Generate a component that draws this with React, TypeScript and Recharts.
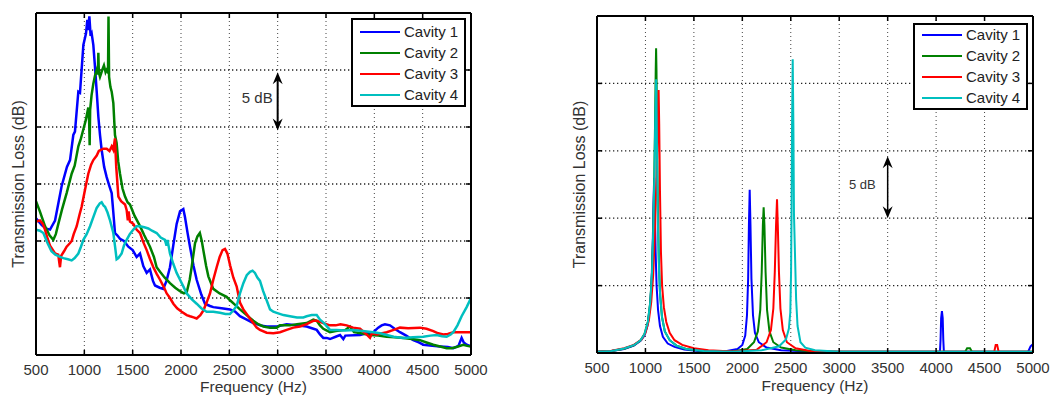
import React from 'react';
import { LineChart, Line, XAxis, YAxis, CartesianGrid, Legend, ReferenceLine } from 'recharts';

const freqTicks = [500, 1000, 1500, 2000, 2500, 3000, 3500, 4000, 4500, 5000];
const measuredDbTicks = [0, 5, 10, 15, 20, 25, 30];
const simulatedDbTicks = [0, 5, 10, 15, 20, 25];
const seriesNames = ['Cavity 1', 'Cavity 2', 'Cavity 3', 'Cavity 4'];
const seriesColors = ['#0000ff', '#008000', '#ff0000', '#00bfbf'];

type Pt = [number, number];

// ---- Measured (left panel) : [frequency Hz, relative TL dB]
const cavity1Measured: Pt[] = [
  [500, 12.0], [560, 11.4], [600, 11.1], [645, 11.0], [697, 11.8], [765, 14.8], [820, 16.5], [852, 17.1],
  [886, 19.3], [903, 19.6], [938, 23.1], [955, 23.0], [990, 27.2], [1017, 28.2], [1031, 29.4], [1040, 28.5],
  [1052, 29.7], [1065, 28.0], [1076, 28.2], [1093, 27.2], [1110, 25.3], [1128, 23.1], [1145, 20.9], [1162, 19.3],
  [1179, 18.0], [1205, 16.5], [1231, 15.6], [1260, 14.8], [1283, 14.2], [1300, 12.5], [1317, 10.7], [1340, 10.5],
  [1369, 10.2], [1410, 10.0], [1455, 9.5], [1500, 9.2], [1541, 8.6], [1576, 8.9], [1610, 7.8], [1645, 7.2],
  [1679, 7.5], [1710, 6.5], [1731, 6.1], [1780, 5.9], [1817, 5.8], [1850, 6.5], [1886, 7.7], [1920, 9.6],
  [1955, 11.5], [1990, 12.6], [2024, 12.8], [2041, 12.1], [2070, 10.6], [2093, 9.5], [2130, 7.8], [2162, 6.6],
  [2210, 5.3], [2248, 4.5], [2300, 4.3], [2334, 4.2], [2420, 4.1], [2507, 4.0], [2560, 3.8], [2610, 3.4],
  [2680, 3.1], [2748, 2.8], [2820, 2.6], [2886, 2.5], [2990, 2.5], [3093, 2.7], [3196, 2.6], [3300, 2.5],
  [3370, 2.3], [3404, 2.2], [3438, 1.8], [3472, 1.5], [3507, 1.5], [3541, 1.4], [3600, 1.6], [3645, 1.75],
  [3679, 1.4], [3700, 1.7], [3852, 1.75], [3920, 1.9], [3990, 2.0], [4040, 2.4], [4076, 2.6], [4110, 2.7],
  [4162, 2.6], [4210, 2.3], [4265, 2.0], [4330, 1.7], [4403, 1.3], [4460, 1.1], [4507, 0.9], [4600, 0.8],
  [4679, 0.75], [4760, 0.7], [4817, 0.6], [4870, 0.8], [4903, 1.5], [4925, 1.1], [4955, 0.9], [5000, 0.75],
];

const cavity2Measured: Pt[] = [
  [500, 13.5], [540, 12.6], [593, 11.3], [640, 10.5], [679, 10.1], [705, 10.6], [731, 11.5], [770, 12.8],
  [817, 14.2], [869, 15.9], [900, 16.6], [938, 18.3], [965, 19.0], [990, 19.8], [1015, 20.6], [1041, 21.7],
  [1050, 20.5], [1055, 18.4], [1060, 21.5], [1075, 22.8], [1093, 23.8], [1110, 24.5], [1128, 25.0], [1140, 24.6],
  [1145, 26.5], [1150, 24.8], [1162, 24.4], [1185, 25.0], [1203, 25.4], [1220, 24.8], [1231, 25.0], [1245, 24.8],
  [1250, 29.7], [1256, 24.4], [1270, 23.5], [1283, 23.1], [1300, 22.1], [1317, 19.3], [1334, 18.6], [1350, 17.0],
  [1369, 15.9], [1395, 14.6], [1421, 13.9], [1447, 13.4], [1472, 13.2], [1520, 12.2], [1576, 11.3], [1620, 10.5],
  [1679, 9.5], [1720, 8.6], [1748, 7.7], [1783, 7.3], [1830, 6.8], [1886, 6.3], [1940, 5.9], [1990, 5.6],
  [2030, 5.4], [2059, 5.5], [2090, 6.6], [2110, 7.7], [2145, 9.8], [2170, 10.4], [2195, 10.7], [2215, 10.0],
  [2231, 9.2], [2260, 7.8], [2283, 6.9], [2334, 5.8], [2400, 5.4], [2472, 5.1], [2507, 4.8], [2560, 4.4],
  [2610, 4.0], [2679, 3.5], [2748, 3.0], [2800, 2.7], [2852, 2.5], [2920, 2.4], [2990, 2.4], [3024, 2.6],
  [3127, 2.6], [3200, 2.7], [3300, 2.8], [3369, 3.1], [3404, 3.0], [3438, 2.6], [3472, 2.3], [3541, 2.0],
  [3600, 2.1], [3700, 2.2], [3748, 2.5], [3790, 2.0], [3860, 1.9], [3955, 1.75], [4040, 1.7], [4128, 1.6],
  [4210, 1.55], [4300, 1.5], [4390, 1.4], [4472, 1.3], [4540, 1.1], [4610, 0.9], [4680, 0.75], [4748, 0.6],
  [4800, 0.6], [4851, 0.7], [4920, 0.9], [4960, 0.8], [5000, 0.75],
];

const cavity3Measured: Pt[] = [
  [500, 11.7], [541, 11.8], [570, 11.5], [593, 11.0], [620, 10.2], [645, 9.6], [697, 8.9], [730, 8.8],
  [748, 7.7], [760, 8.7], [790, 9.1], [817, 9.5], [850, 9.8], [869, 10.0], [890, 10.6], [921, 11.3],
  [950, 12.3], [972, 13.0], [1007, 14.5], [1041, 15.9], [1070, 16.7], [1093, 17.1], [1128, 17.5], [1150, 17.9],
  [1197, 18.1], [1231, 18.1], [1260, 17.9], [1283, 18.3], [1300, 18.0], [1317, 19.0], [1330, 16.5], [1352, 13.9],
  [1380, 13.5], [1421, 13.2], [1438, 12.7], [1450, 11.8], [1458, 12.6], [1472, 11.7], [1507, 11.5], [1540, 11.0],
  [1576, 10.7], [1610, 9.9], [1645, 9.2], [1680, 8.4], [1714, 7.7], [1750, 7.1], [1783, 6.6], [1820, 6.0],
  [1852, 5.4], [1886, 5.0], [1921, 4.5], [1960, 4.1], [2007, 3.8], [2059, 3.5], [2093, 3.4], [2130, 3.3],
  [2162, 3.2], [2200, 3.5], [2231, 3.9], [2265, 4.6], [2300, 5.4], [2334, 6.6], [2369, 7.7], [2400, 8.6],
  [2430, 9.2], [2455, 9.3], [2480, 8.9], [2510, 7.8], [2541, 6.8], [2576, 6.0], [2610, 4.6], [2645, 4.0],
  [2679, 3.6], [2730, 3.0], [2783, 2.4], [2817, 2.2], [2886, 1.95], [2955, 1.9], [3024, 2.0], [3093, 2.2],
  [3162, 2.4], [3231, 2.5], [3300, 2.7], [3369, 3.0], [3404, 3.0], [3438, 2.9], [3472, 2.8], [3541, 2.6],
  [3600, 2.6], [3650, 2.7], [3714, 2.6], [3780, 2.4], [3852, 2.3], [3920, 1.8], [3955, 1.5], [3975, 1.9],
  [4024, 1.8], [4128, 2.0], [4200, 2.2], [4265, 2.4], [4350, 2.35], [4472, 2.4], [4540, 2.3], [4610, 2.1],
  [4660, 1.9], [4714, 1.8], [4760, 1.85], [4817, 2.0], [4900, 2.0], [5000, 2.0],
];

const cavity4Measured: Pt[] = [
  [500, 11.0], [540, 10.9], [576, 10.7], [620, 9.8], [660, 9.1], [700, 8.8], [750, 8.6], [783, 8.5],
  [830, 8.4], [869, 8.3], [900, 8.5], [938, 8.9], [965, 9.5], [990, 10.1], [1024, 10.6], [1059, 11.3],
  [1093, 12.1], [1128, 12.9], [1160, 13.3], [1179, 13.4], [1200, 13.1], [1214, 13.0], [1240, 12.5], [1266, 11.8],
  [1300, 10.7], [1318, 9.5], [1334, 8.4], [1352, 8.5], [1386, 8.9], [1410, 9.6], [1438, 10.1], [1470, 10.6],
  [1507, 11.0], [1540, 11.3], [1576, 11.3], [1620, 11.2], [1662, 11.1], [1700, 10.9], [1748, 10.7], [1790, 10.3],
  [1834, 10.1], [1850, 9.6], [1860, 10.1], [1886, 8.9], [1920, 8.0], [1955, 7.2], [1990, 6.6], [2025, 6.0],
  [2059, 5.4], [2110, 4.9], [2162, 4.5], [2210, 4.1], [2265, 3.8], [2334, 3.8], [2403, 3.7], [2460, 3.6],
  [2507, 3.6], [2540, 3.9], [2576, 4.3], [2610, 5.4], [2645, 6.3], [2680, 7.0], [2714, 7.3], [2740, 7.4],
  [2765, 7.2], [2790, 6.8], [2817, 6.5], [2850, 5.6], [2886, 4.8], [2921, 4.0], [2955, 3.8], [2990, 3.7],
  [3060, 3.5], [3127, 3.4], [3200, 3.3], [3265, 3.3], [3300, 3.4], [3352, 3.5], [3404, 3.5], [3438, 3.1],
  [3480, 2.8], [3541, 2.2], [3610, 2.2], [3700, 2.15], [3783, 2.2], [3880, 2.1], [3990, 2.0], [4060, 1.9],
  [4128, 1.75], [4200, 1.6], [4300, 1.5], [4400, 1.55], [4507, 1.6], [4580, 1.7], [4645, 1.75], [4700, 1.65],
  [4748, 1.6], [4790, 1.8], [4817, 2.0], [4860, 2.6], [4903, 3.4], [4955, 4.2], [5000, 5.0],
];

// ---- Simulated (right panel)
const cavity1Simulated: Pt[] = [
  [500, 0.1], [650, 0.15], [780, 0.3], [880, 0.55], [950, 0.9], [990, 1.3], [1020, 2.0], [1045, 3.3],
  [1062, 5.0], [1075, 8.0], [1083, 11.0], [1090, 13.0], [1097, 11.0], [1105, 7.5], [1115, 5.0], [1130, 3.2],
  [1150, 2.0], [1180, 1.2], [1230, 0.7], [1300, 0.45], [1400, 0.25], [1550, 0.15], [1800, 0.1], [1950, 0.3],
  [2000, 0.6], [2030, 1.3], [2048, 2.8], [2060, 5.5], [2068, 9.5], [2076, 12.1], [2084, 9.5], [2094, 5.5],
  [2110, 2.8], [2130, 1.5], [2170, 0.8], [2250, 0.4], [2400, 0.2], [2700, 0.12], [4040, 0.1], [4046, 1.0],
  [4052, 2.6], [4060, 3.1], [4068, 2.6], [4074, 1.0], [4080, 0.1], [4950, 0.1], [4975, 0.5], [4990, 0.6],
  [5000, 0.5],
];

const cavity2Simulated: Pt[] = [
  [500, 0.1], [650, 0.15], [780, 0.32], [880, 0.57], [950, 0.95], [990, 1.4], [1025, 2.3], [1050, 3.8],
  [1068, 6.0], [1082, 9.5], [1093, 14.0], [1100, 17.5], [1106, 21.0], [1110, 22.6], [1114, 21.0], [1120, 16.0],
  [1128, 11.0], [1138, 7.0], [1150, 4.5], [1170, 2.7], [1200, 1.6], [1250, 0.95], [1320, 0.55], [1420, 0.3],
  [1600, 0.15], [1900, 0.12], [2050, 0.3], [2120, 0.8], [2160, 1.6], [2185, 3.2], [2200, 6.0], [2212, 9.5],
  [2220, 10.8], [2228, 9.5], [2240, 6.0], [2255, 3.2], [2280, 1.6], [2320, 0.8], [2400, 0.4], [2550, 0.2],
  [2800, 0.1], [4300, 0.1], [4320, 0.35], [4350, 0.35], [4370, 0.1], [5000, 0.1],
];

const cavity3Simulated: Pt[] = [
  [500, 0.1], [650, 0.17], [780, 0.35], [880, 0.6], [960, 1.0], [1000, 1.5], [1035, 2.4], [1060, 3.8],
  [1080, 5.8], [1095, 8.5], [1108, 11.5], [1120, 14.5], [1130, 17.5], [1136, 19.5], [1142, 17.0], [1150, 12.0],
  [1160, 7.5], [1172, 5.0], [1190, 3.4], [1215, 2.3], [1250, 1.5], [1300, 0.95], [1380, 0.6], [1500, 0.35],
  [1650, 0.2], [1900, 0.12], [2150, 0.25], [2250, 0.8], [2295, 1.7], [2320, 3.3], [2335, 6.0], [2348, 9.5],
  [2358, 11.4], [2366, 9.5], [2378, 6.0], [2393, 3.3], [2418, 1.7], [2460, 0.8], [2550, 0.35], [2700, 0.15],
  [3000, 0.1], [4600, 0.1], [4615, 0.6], [4630, 0.6], [4645, 0.1], [5000, 0.1],
];

const cavity4Simulated: Pt[] = [
  [500, 0.1], [650, 0.15], [780, 0.33], [880, 0.58], [950, 0.95], [990, 1.4], [1025, 2.3], [1050, 3.8],
  [1068, 6.0], [1082, 9.5], [1093, 13.5], [1102, 17.5], [1110, 20.3], [1116, 17.5], [1122, 13.0], [1130, 9.0],
  [1140, 6.2], [1152, 4.2], [1172, 2.6], [1200, 1.6], [1250, 0.95], [1320, 0.55], [1420, 0.3], [1600, 0.15],
  [1900, 0.1], [2200, 0.2], [2380, 0.5], [2450, 1.0], [2480, 1.8], [2495, 3.0], [2503, 6.0], [2508, 10.3],
  [2513, 16.8], [2520, 21.8], [2527, 16.8], [2533, 10.3], [2545, 6.9], [2555, 4.0], [2570, 2.0], [2600, 0.8],
  [2650, 0.4], [2750, 0.2], [3000, 0.1], [5000, 0.1],
];

const measuredSeries = [cavity1Measured, cavity2Measured, cavity3Measured, cavity4Measured];
const simulatedSeries = [cavity1Simulated, cavity2Simulated, cavity3Simulated, cavity4Simulated];

const toRows = (pts: Pt[]) => pts.map(([f, v]) => ({ f, v }));

const TEXT = '#333333';
const FONT = 'Arial, "Liberation Sans", Helvetica, sans-serif';
const GRID = '#444';

const EmptyTick = () => <g />;

// dotted horizontal grid line
const GridLineShape = (props: any) => {
  const { x1, x2, y1 } = props;
  return <line x1={x1} x2={x2} y1={y1} y2={y1} stroke="#222" strokeWidth={1.3} strokeDasharray="1.3 2.7" />;
};

type ArrowCfg = { f: number; y1: number; y2: number; gap: number; fontSize: number; dy: number; width: number };

const makeArrowShape = (cfg: ArrowCfg) => (props: any) => {
  const { x1, y1, x2, y2 } = props;
  const top = Math.min(y1, y2);
  const bot = Math.max(y1, y2);
  const x = x1;
  const hw = 5;
  const hh = 12;
  const mid = (top + bot) / 2;
  return (
    <g>
      <line x1={x} y1={top + 6} x2={x2} y2={bot - 6} stroke="#000" strokeWidth={cfg.width} />
      <polygon points={`${x},${top} ${x - hw},${top + hh} ${x},${top + hh - 4} ${x + hw},${top + hh}`} fill="#000" />
      <polygon points={`${x},${bot} ${x - hw},${bot - hh} ${x},${bot - hh + 4} ${x + hw},${bot - hh}`} fill="#000" />
      <text x={x - cfg.gap} y={mid + cfg.dy} textAnchor="end" dominantBaseline="central" fontSize={cfg.fontSize} fill={TEXT}>
        5 dB
      </text>
    </g>
  );
};

type LegendCfg = { x: number; y: number; w: number; h: number; first: number; gap: number };

const makeLegend = (cfg: LegendCfg) => (props: any) => {
  const payload = (props.payload || []).filter((it: any) => seriesNames.includes(it.value));
  return (
    <div
      style={{
        position: 'relative',
        width: cfg.w,
        height: cfg.h,
        border: '2px solid #000',
        boxSizing: 'border-box',
        background: '#fff',
        fontFamily: FONT,
      }}
    >
      {payload.map((item: any, i: number) => (
        <div
          key={i}
          style={{
            position: 'absolute',
            left: 7,
            top: cfg.first + i * cfg.gap - 2 - 10,
            height: 20,
            display: 'flex',
            alignItems: 'center',
            whiteSpace: 'nowrap',
          }}
        >
          <div style={{ width: 40, height: 2, background: item.color, marginRight: 4 }} />
          <span style={{ fontSize: 15, color: '#222', lineHeight: '20px' }}>{item.value}</span>
        </div>
      ))}
    </div>
  );
};

type PanelProps = {
  left: number;
  width: number;
  margin: { top: number; right: number; bottom: number; left: number };
  xAxisHeight: number;
  xLabelOffset: number;
  yMax: number;
  yTicks: number[];
  series: Pt[][];
  lineWidth: number;
  arrow: ArrowCfg;
  legend: LegendCfg;
};

function Panel(p: PanelProps) {
  const axisLine = { stroke: '#000', strokeWidth: 2 };
  const tickLine = { stroke: '#000', strokeWidth: 1.5 };
  const innerYTicks = p.yTicks.filter((t) => t > 0 && t < p.yMax);
  return (
    <div style={{ position: 'absolute', left: p.left, top: 0 }}>
      <LineChart width={p.width} height={396} margin={p.margin}>
        <CartesianGrid stroke={GRID} strokeDasharray="1 3" strokeWidth={1} horizontal={false} />
        {innerYTicks.map((t) => (
          <ReferenceLine
            key={`h${t}`}
            segment={[
              { x: freqTicks[0], y: t },
              { x: freqTicks[freqTicks.length - 1], y: t },
            ]}
            stroke={GRID}
            ifOverflow="visible"
            shape={GridLineShape}
          />
        ))}
        <XAxis
          xAxisId={0}
          type="number"
          dataKey="f"
          domain={[500, 5000]}
          allowDataOverflow
          ticks={freqTicks}
          interval={0}
          height={p.xAxisHeight}
          tickSize={-5}
          tickMargin={14}
          axisLine={axisLine}
          tickLine={tickLine}
          tick={{ fontSize: 15, fill: TEXT }}
          label={{ value: 'Frequency (Hz)', position: 'insideBottom', offset: p.xLabelOffset, fontSize: 15.5, fill: TEXT }}
        />
        <XAxis
          xAxisId="top"
          orientation="top"
          type="number"
          dataKey="f"
          domain={[500, 5000]}
          allowDataOverflow
          ticks={freqTicks}
          interval={0}
          height={1}
          tickSize={-5}
          tick={<EmptyTick />}
          axisLine={axisLine}
          tickLine={tickLine}
        />
        <YAxis
          yAxisId={0}
          type="number"
          domain={[0, p.yMax]}
          allowDataOverflow
          ticks={p.yTicks}
          interval={0}
          width={36}
          tickSize={-5}
          tick={<EmptyTick />}
          axisLine={axisLine}
          tickLine={tickLine}
          label={{ value: 'Transmission Loss (dB)', angle: -90, position: 'center', fontSize: 16, fill: TEXT }}
        />
        <YAxis
          yAxisId="right"
          orientation="right"
          type="number"
          domain={[0, p.yMax]}
          allowDataOverflow
          ticks={p.yTicks}
          interval={0}
          width={1}
          tickSize={-5}
          tick={<EmptyTick />}
          axisLine={axisLine}
          tickLine={tickLine}
        />
        {p.series.map((pts, i) => (
          <Line
            key={seriesNames[i]}
            name={seriesNames[i]}
            data={toRows(pts)}
            dataKey="v"
            type="linear"
            stroke={seriesColors[i]}
            strokeWidth={p.lineWidth}
            dot={false}
            activeDot={false}
            isAnimationActive={false}
          />
        ))}
        {/* invisible carrier so the box's top/right axes are bound to data */}
        <Line
          xAxisId="top"
          yAxisId="right"
          name="frame"
          legendType="none"
          data={toRows(p.series[0])}
          dataKey="v"
          stroke="none"
          dot={false}
          activeDot={false}
          isAnimationActive={false}
        />
        <ReferenceLine
          segment={[
            { x: p.arrow.f, y: p.arrow.y1 },
            { x: p.arrow.f, y: p.arrow.y2 },
          ]}
          stroke="#000"
          ifOverflow="visible"
          shape={makeArrowShape(p.arrow)}
        />
        <Legend
          layout="vertical"
          align="center"
          verticalAlign="middle"
          wrapperStyle={{ left: p.legend.x, top: p.legend.y, width: p.legend.w, height: p.legend.h }}
          content={makeLegend(p.legend)}
        />
      </LineChart>
    </div>
  );
}

export default function App() {
  return (
    <div
      style={{
        position: 'absolute',
        left: 0,
        top: 0,
        width: 1056,
        height: 396,
        background: '#fff',
        fontFamily: FONT,
        overflow: 'hidden',
      }}
    >
      <Panel
        left={0}
        width={520}
        margin={{ top: 12, right: 48, bottom: 0, left: 0 }}
        xAxisHeight={41}
        xLabelOffset={4}
        yMax={30}
        yTicks={measuredDbTicks}
        series={measuredSeries}
        lineWidth={2.5}
        arrow={{ f: 3000, y1: 19.7, y2: 24.8, gap: 5, fontSize: 15, dy: -4, width: 2 }}
        legend={{ x: 351, y: 18, w: 115, h: 89, first: 14, gap: 21 }}
      />
      <Panel
        left={540}
        width={516}
        margin={{ top: 15, right: 22, bottom: 0, left: 21 }}
        xAxisHeight={43}
        xLabelOffset={5}
        yMax={25}
        yTicks={simulatedDbTicks}
        series={simulatedSeries}
        lineWidth={2}
        arrow={{ f: 3500, y1: 10.0, y2: 14.6, gap: 12, fontSize: 13, dy: -3, width: 1.5 }}
        legend={{ x: 373, y: 23, w: 115, h: 87, first: 12, gap: 21 }}
      />
    </div>
  );
}
